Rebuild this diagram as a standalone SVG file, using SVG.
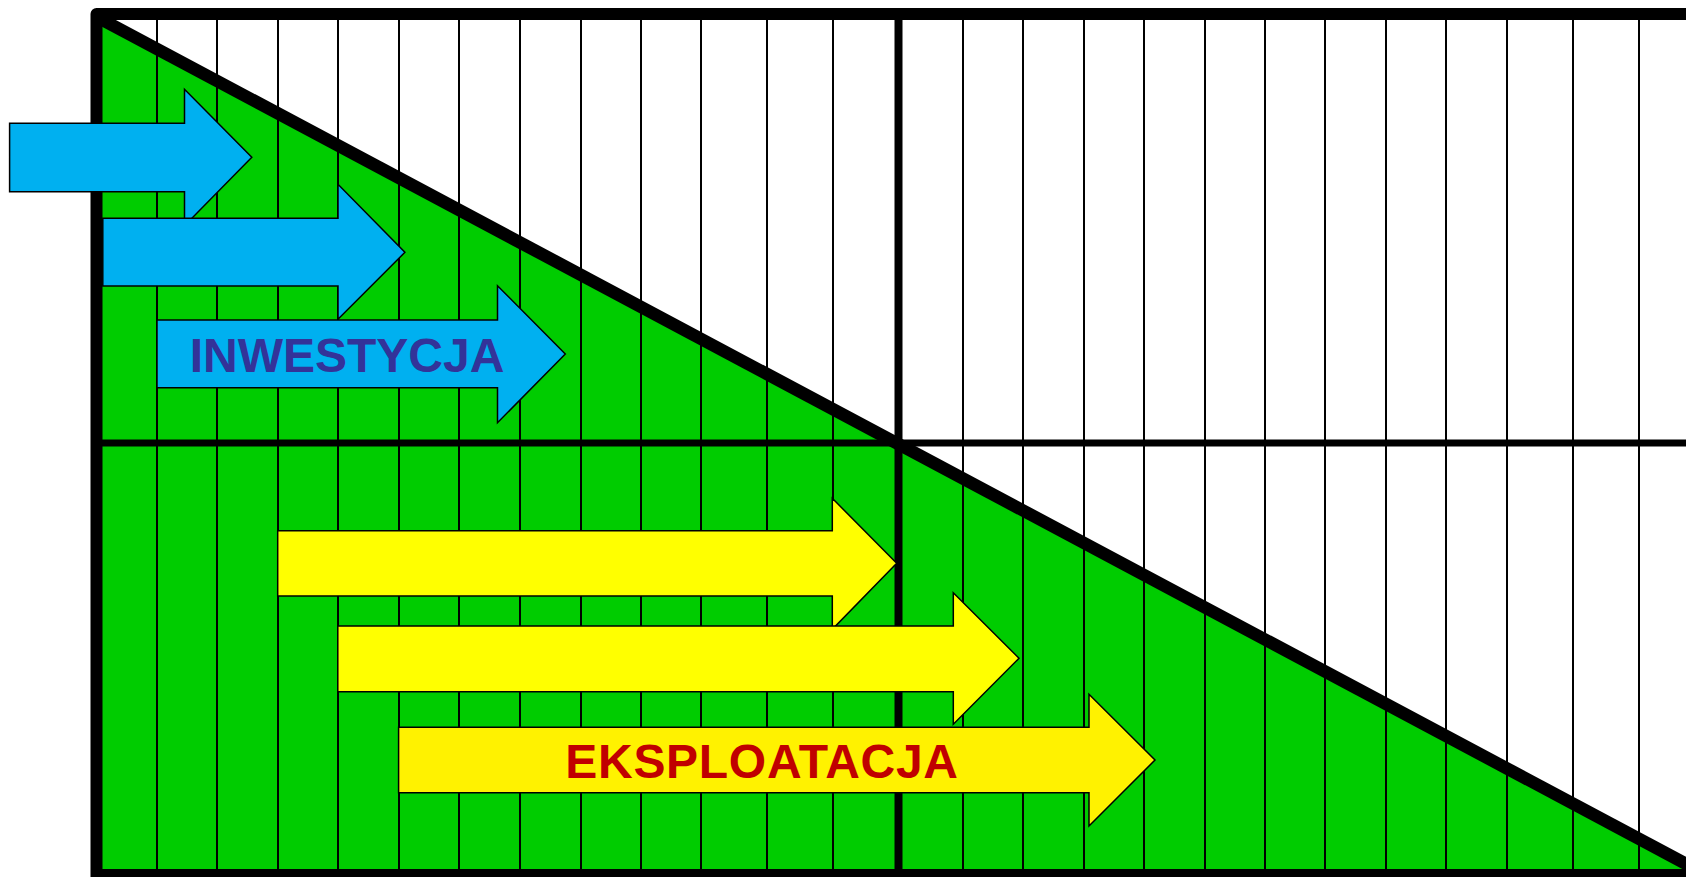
<svg xmlns="http://www.w3.org/2000/svg" width="1686" height="877" viewBox="0 0 1686 877">
<style>
.grid{stroke:#000;stroke-width:2;fill:none}
.thick{stroke:#000;fill:none}
.arrow{stroke:#000;stroke-width:1.5;stroke-linejoin:miter}
.blue{fill:#00B0F0}
.yel{fill:#FFFF00}
.yel2{fill:#FFF200}
.lbl{font-family:"Liberation Sans",Arial,sans-serif;font-weight:bold;font-size:48px;text-anchor:middle}
</style>
<rect width="1686" height="877" fill="#fff"/>
<g id="chart">
<polygon points="97,17 1690,866 1690,877 97,877" fill="#00CC00"/>
<g class="grid">
<path d="M157,14V874M217,14V874M278,14V874M338,14V874M399,14V874M459,14V874M520,14V874M581,14V874M641,14V874M701,14V874M767,14V874M833,14V874M963,14V874M1023,14V874M1084,14V874M1144,14V874M1205,14V874M1265,14V874M1325,14V874M1386,14V874M1446,14V874M1507,14V874M1573,14V874M1639,14V874"/>
</g>
<path class="thick" d="M96.5,443H1686" stroke-width="7"/>
<path class="thick" d="M898.5,14V874" stroke-width="8"/>
<path class="thick" d="M97,17L1690,866" stroke-width="12.5"/>
<path class="thick" d="M1686,14H96.5V877" stroke-width="12" stroke-linejoin="round"/>
<path class="thick" d="M96.5,874H1686" stroke-width="10"/>
</g>
<g id="connectors"></g>
<g id="arrow-inv-1">
<path class="arrow blue" d="M9.6,123.3H184.5V89.3L251.8,157.3L184.5,225.7V191.7H9.6Z"/>
</g>
<g id="arrow-inv-2">
<path class="arrow blue" d="M102.8,218.3H338V184.3L404.9,252.3L338,319.3V286H102.8Z"/>
</g>
<g id="arrow-inwestycja">
<path class="arrow blue" d="M157,320H497.5V285.7L565.3,354L497.5,422.7V387.7H157Z"/>
<text class="lbl" x="347" y="372" fill="#333399">INWESTYCJA</text>
</g>
<g id="arrow-eks-1">
<path class="arrow yel" d="M277.7,530.7H832.3V498.3L896.7,563.3L832.3,629.3V596H277.7Z"/>
</g>
<g id="arrow-eks-2">
<path class="arrow yel" d="M337.8,626H953.3V592.7L1019,658.3L953.3,724.3V691.7H337.8Z"/>
</g>
<g id="arrow-eksploatacja">
<path class="arrow yel2" d="M398.6,727.3H1089V694.3L1155,760L1089,826V792.7H398.6Z"/>
<text class="lbl" x="762" y="778" fill="#C00000" letter-spacing="0.7">EKSPLOATACJA</text>
</g>
</svg>
